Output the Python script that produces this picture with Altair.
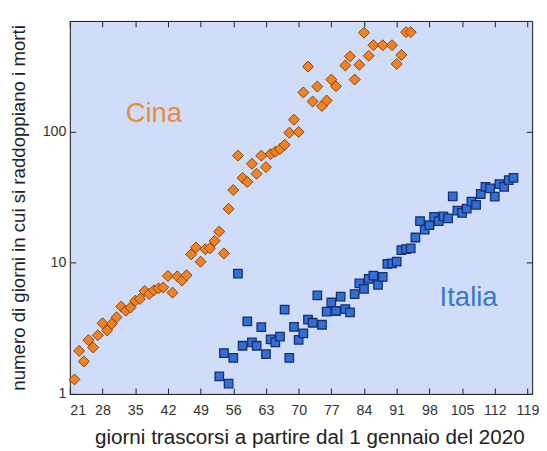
import altair as alt
import pandas as pd

# ---- data ----
china_day = [22, 23, 24, 25, 26, 27, 28, 29, 30, 31, 32, 33, 34, 35, 36, 37, 38, 39, 40, 41,
             42, 43, 44, 45, 46, 47, 48, 49, 50, 51, 52, 53, 54, 55, 56, 57, 58, 59, 60, 61,
             62, 63, 64, 65, 66, 67, 68, 69, 70, 71, 72, 73, 74, 75, 76, 77, 78, 80, 81, 82,
             83, 84, 85, 86, 88, 90, 91, 92, 93, 94]
china_val = [1.29, 2.13, 1.77, 2.57, 2.26, 2.80, 3.46, 3.05, 3.43, 3.84, 4.64, 4.31, 4.56, 5.13,
             5.30, 6.09, 5.78, 6.17, 6.38, 6.49, 7.93, 5.92, 7.89, 7.33, 8.03, 11.6, 13.1, 10.2,
             12.7, 12.9, 14.7, 17.3, 11.8, 25.8, 35.9, 65.7, 44.4, 41.4, 56.9, 47.8, 65.7, 53.7,
             67.6, 70.4, 73.6, 79.5, 98.3, 123.6, 99.5, 199.5, 314, 170, 221, 157, 173, 250, 222,
             320, 376, 250, 324, 569, 380, 457, 457, 457, 329, 385, 575, 575]

italy_day = [53, 54, 55, 56, 57, 58, 59, 60, 61, 62, 63, 64, 65, 66, 67, 68, 69, 70, 71, 72,
             73, 74, 75, 76, 77, 78, 79, 80, 81, 82, 83, 84, 85, 86, 87, 88, 89, 90, 91, 92,
             93, 94, 95, 96, 97, 98, 99, 100, 101, 102, 103, 104, 105, 106, 107, 108, 109, 110,
             111, 112, 113, 114, 115, 116]
italy_val = [1.36, 2.05, 1.20, 1.88, 8.27, 2.33, 3.58, 2.47, 2.33, 3.23, 2.01, 2.61, 2.47, 2.74,
             4.39, 1.88, 3.25, 2.58, 2.90, 3.69, 3.49, 5.65, 3.37, 4.24, 4.98, 4.29, 5.52, 4.44,
             4.19, 5.78, 6.96, 6.34, 7.53, 7.98, 6.79, 7.80, 9.83, 9.9, 10.2, 12.5, 12.7, 12.9,
             15.6, 20.8, 17.9, 19.4, 22.4, 20.8, 22.6, 21.8, 32.1, 25.0, 24.0, 25.9, 29.3, 27.7,
             33.5, 38.0, 36.9, 32.0, 39.8, 38.0, 42.7, 44.4]

x_ticks = [21, 28, 35, 42, 49, 56, 63, 70, 77, 84, 91, 98, 105, 112, 119]
y_ticks = [1, 10, 100]

labels_text = ["Cina", "Italia"]
labels_day = [39, 106.4]
labels_val = [136, 5.4]

x_title = "giorni trascorsi a partire dal 1 gennaio del 2020"
y_title = "numero di giorni in cui si raddoppiano i morti"

df_c = pd.DataFrame({"giorno": china_day, "valore": china_val})
df_i = pd.DataFrame({"giorno": italy_day, "valore": italy_val})
df_c_lab = pd.DataFrame({"giorno": labels_day[:1], "valore": labels_val[:1], "t": labels_text[:1]})
df_i_lab = pd.DataFrame({"giorno": labels_day[1:], "valore": labels_val[1:], "t": labels_text[1:]})

FONT = "Liberation Sans"
xscale = alt.Scale(domain=[21, 120], nice=False, zero=False)
yscale = alt.Scale(type="log", domain=[1, 700], nice=False)

common = dict(domain=False, grid=False, tickSize=6, offset=-6, tickColor="#222",
              tickWidth=1, labelFont=FONT, labelFontSize=14.5, labelColor="#333",
              titleFont=FONT, titleFontWeight="normal", titleColor="#222")

x_bottom = alt.Axis(orient="bottom", values=x_ticks, title=x_title, labelPadding=10,
                    titlePadding=10, titleFontSize=21, titleX=244, titleAlign="center",
                    **common)
y_left = alt.Axis(orient="left", values=y_ticks, title=y_title, labelPadding=4,
                  titlePadding=14, titleFontSize=19, labelExpr="datum.value", **common)
x_top = alt.Axis(orient="top", values=x_ticks, title=None, labels=False, **common)
y_right = alt.Axis(orient="right", values=y_ticks, title=None, labels=False, **common)

china = alt.Chart(df_c).mark_point(
    shape="diamond", filled=True, size=125, fill="#F5821F", stroke="#7a4516",
    strokeWidth=1, opacity=1
).encode(
    x=alt.X("giorno:Q", scale=xscale, axis=x_bottom),
    y=alt.Y("valore:Q", scale=yscale, axis=y_left),
)

italy = alt.Chart(df_i).mark_point(
    shape="square", filled=True, size=75, fill="#2F6FD6", stroke="#1b2f6e",
    strokeWidth=1.3, opacity=1
).encode(
    x=alt.X("giorno:Q", scale=xscale, axis=x_top),
    y=alt.Y("valore:Q", scale=yscale, axis=y_right),
)

cina_lab = alt.Chart(df_c_lab).mark_text(
    font=FONT, fontSize=28, color="#EE8A35", align="center", baseline="middle"
).encode(
    x=alt.X("giorno:Q", scale=xscale, axis=None),
    y=alt.Y("valore:Q", scale=yscale, axis=None),
    text="t:N",
)
italia_lab = alt.Chart(df_i_lab).mark_text(
    font=FONT, fontSize=28, color="#3A78CE", align="center", baseline="middle"
).encode(
    x=alt.X("giorno:Q", scale=xscale, axis=None),
    y=alt.Y("valore:Q", scale=yscale, axis=None),
    text="t:N",
)

chart = alt.layer(china, italy, cina_lab, italia_lab).resolve_axis(
    x="independent", y="independent"
).properties(
    width=471, height=380,
    padding={"left": 1, "top": 8, "right": 0, "bottom": 0},
    background="white",
).configure_view(
    fill="#D0DDF8", stroke="#111", strokeWidth=1
)

chart.save("out.html", embed_options={"renderer": "svg", "actions": False})
